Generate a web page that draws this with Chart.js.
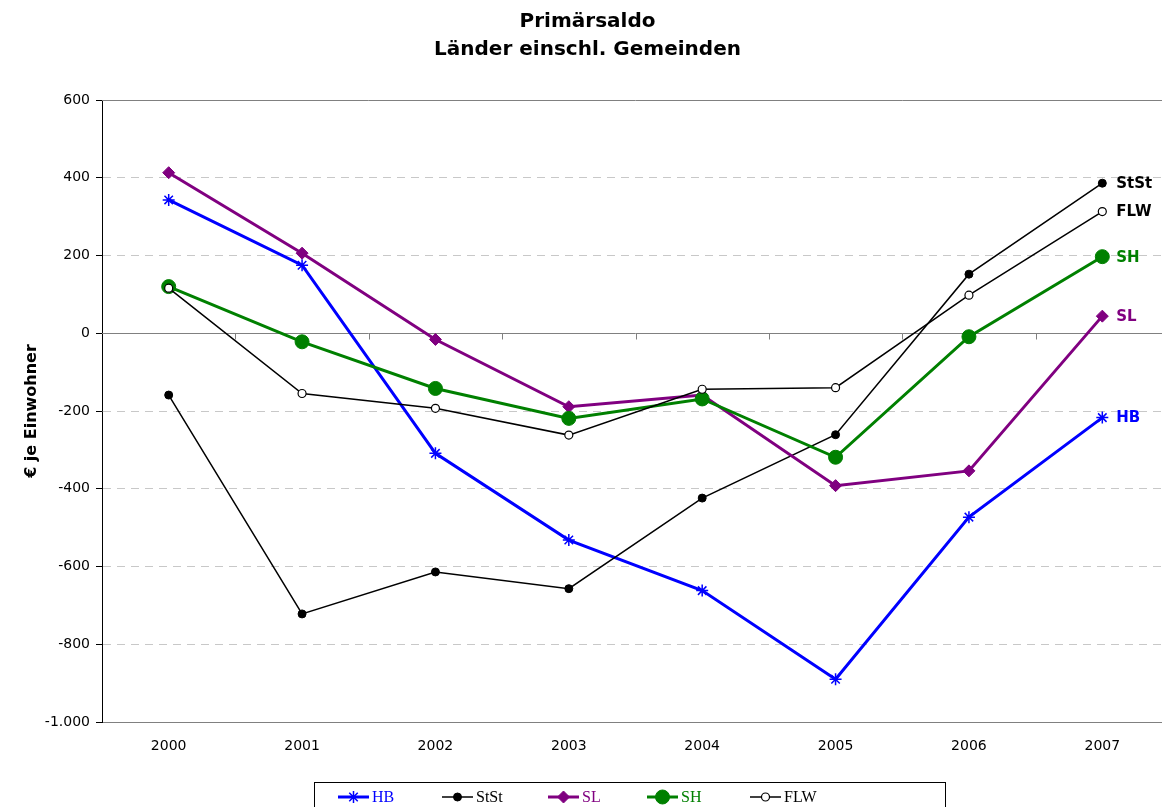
<!DOCTYPE html>
<html>
<head>
<meta charset="utf-8">
<script src="https://cdn.jsdelivr.net/npm/chart.js@4.4.1/dist/chart.umd.min.js"></script>
<style>
  html, body { margin: 0; padding: 0; background: #fff; overflow: hidden; }
  #saldoChart { display: block; }
</style>
</head>
<body>
<canvas id="saldoChart" width="1177" height="807"></canvas>
<script>
const years = ['2000', '2001', '2002', '2003', '2004', '2005', '2006', '2007'];
const hb = [343, 175, -309, -532, -662, -890, -473, -217];
const stst = [-159, -722, -614, -657, -424, -261, 152, 386];
const sl = [413, 206, -16, -189, -159, -392, -354, 44];
const sh = [120, -22, -142, -219, -169, -319, -9, 197];
const flw = [116, -155, -193, -262, -144, -140, 98, 313];
const yTickValues = [600, 400, 200, 0, -200, -400, -600, -800, -1000];
const yTickLabels = ['600', '400', '200', '0', '-200', '-400', '-600', '-800', '-1.000'];

const FONT = "'DejaVu Sans', sans-serif";

// zero line, top border and the little category ticks sitting on the zero line
const axisLines = {
  id: 'axisLines',
  beforeDatasetsDraw(chart) {
    const { ctx, chartArea: a, scales: { x, y } } = chart;
    ctx.save();
    ctx.strokeStyle = '#808080';
    ctx.lineWidth = 1;
    const y0 = Math.round(y.getPixelForValue(0)) + 0.5;
    const yTop = Math.round(a.top) + 0.5;
    ctx.beginPath();
    ctx.moveTo(a.left, y0); ctx.lineTo(a.right, y0);
    ctx.moveTo(a.left, yTop); ctx.lineTo(a.right, yTop);
    const band = (a.right - a.left) / years.length;
    for (let k = 1; k < years.length; k++) {
      const xx = Math.round(a.left + k * band) + 0.5;
      ctx.moveTo(xx, y0); ctx.lineTo(xx, y0 + 6);
    }
    ctx.stroke();
    ctx.restore();
  }
};

// series names at the end of each line
const endLabels = {
  id: 'endLabels',
  afterDatasetsDraw(chart) {
    const { ctx } = chart;
    ctx.save();
    ctx.font = 'bold 15px ' + FONT;
    ctx.textBaseline = 'middle';
    ctx.textAlign = 'left';
    chart.data.datasets.forEach((ds, i) => {
      const pts = chart.getDatasetMeta(i).data;
      const last = pts[pts.length - 1];
      ctx.fillStyle = ds.labelColor;
      ctx.fillText(ds.label, last.x + 14, last.y + 1);
    });
    ctx.restore();
  }
};

// boxed legend below the axis, line + marker + serif text
const boxLegend = {
  id: 'boxLegend',
  afterDraw(chart) {
    const { ctx } = chart;
    const starts = [338, 442, 548, 647, 750];
    const cy = 797;
    ctx.save();
    ctx.strokeStyle = '#000';
    ctx.lineWidth = 1;
    ctx.strokeRect(314.5, 782.5, 631, 40);
    ctx.font = "16px 'Liberation Serif', serif";
    ctx.textBaseline = 'middle';
    chart.data.datasets.forEach((ds, i) => {
      const x0 = starts[i];
      const mx = x0 + 15.5;
      ctx.strokeStyle = ds.borderColor;
      ctx.lineWidth = ds.borderWidth;
      ctx.beginPath();
      ctx.moveTo(x0, cy); ctx.lineTo(x0 + 31, cy);
      ctx.stroke();
      const r = ds.pointRadius;
      ctx.fillStyle = ds.pointBackgroundColor;
      ctx.strokeStyle = ds.pointBorderColor;
      ctx.lineWidth = ds.pointBorderWidth;
      ctx.beginPath();
      if (ds.pointStyle === 'star') {
        ctx.moveTo(mx - r, cy); ctx.lineTo(mx + r, cy);
        ctx.moveTo(mx, cy - r); ctx.lineTo(mx, cy + r);
        const d = r * 0.707;
        ctx.moveTo(mx - d, cy - d); ctx.lineTo(mx + d, cy + d);
        ctx.moveTo(mx - d, cy + d); ctx.lineTo(mx + d, cy - d);
        ctx.stroke();
      } else if (ds.pointStyle === 'rectRot') {
        ctx.moveTo(mx, cy - r); ctx.lineTo(mx + r, cy);
        ctx.lineTo(mx, cy + r); ctx.lineTo(mx - r, cy); ctx.closePath();
        ctx.fill(); ctx.stroke();
      } else {
        ctx.arc(mx, cy, r, 0, Math.PI * 2);
        ctx.fill(); ctx.stroke();
      }
      ctx.fillStyle = ds.labelColor;
      ctx.fillText(ds.label, x0 + 34, cy + 1);
    });
    ctx.restore();
  }
};

new Chart(document.getElementById('saldoChart'), {
  type: 'line',
  data: {
    labels: years,
    datasets: [
      {
        label: 'HB', data: hb, order: 5,
        borderColor: '#0000ff', borderWidth: 3, labelColor: '#0000ff',
        pointStyle: 'star', pointRadius: 6, pointBorderWidth: 1.5,
        pointBorderColor: '#0000ff', pointBackgroundColor: '#0000ff'
      },
      {
        label: 'StSt', data: stst, order: 4,
        borderColor: '#000000', borderWidth: 1.5, labelColor: '#000000',
        pointStyle: 'circle', pointRadius: 4, pointBorderWidth: 1,
        pointBorderColor: '#000000', pointBackgroundColor: '#000000'
      },
      {
        label: 'SL', data: sl, order: 3,
        borderColor: '#800080', borderWidth: 3, labelColor: '#800080',
        pointStyle: 'rectRot', pointRadius: 6, pointBorderWidth: 1,
        pointBorderColor: '#800080', pointBackgroundColor: '#800080'
      },
      {
        label: 'SH', data: sh, order: 2,
        borderColor: '#008000', borderWidth: 3, labelColor: '#008000',
        pointStyle: 'circle', pointRadius: 7, pointBorderWidth: 1,
        pointBorderColor: '#008000', pointBackgroundColor: '#008000'
      },
      {
        label: 'FLW', data: flw, order: 1,
        borderColor: '#000000', borderWidth: 1.5, labelColor: '#000000',
        pointStyle: 'circle', pointRadius: 4, pointBorderWidth: 1.2,
        pointBorderColor: '#000000', pointBackgroundColor: '#ffffff'
      }
    ]
  },
  options: {
    responsive: false,
    animation: false,
    layout: { padding: { top: 0, right: 2, bottom: 0, left: 0 } },
    plugins: {
      legend: { display: false },
      tooltip: { enabled: false },
      title: {
        display: true,
        text: ['Primärsaldo', 'Länder einschl. Gemeinden'],
        color: '#000',
        font: { family: FONT, size: 20, weight: 'bold', lineHeight: 1.4 },
        padding: { top: 8, bottom: 36 }
      }
    },
    scales: {
      x: {
        offset: true,
        grid: { display: false },
        border: { display: true, color: '#808080', width: 1 },
        ticks: { color: '#000', font: { family: FONT, size: 14 }, padding: 8, maxRotation: 0 },
        afterFit(scale) { scale.height = 85; }
      },
      y: {
        min: -1000,
        max: 600,
        afterBuildTicks(scale) { scale.ticks = yTickValues.map(v => ({ value: v })); },
        grid: {
          color: ctx => (ctx.tick && (ctx.tick.value === 0 || ctx.tick.value === 600 || ctx.tick.value === -1000)) ? 'rgba(0,0,0,0)' : '#c8c8c8',
          tickColor: '#000',
          tickLength: 6,
          lineWidth: 1
        },
        border: { display: true, color: '#000', width: 1, dash: [8, 6] },
        ticks: {
          color: '#000',
          font: { family: FONT, size: 14 },
          padding: 6,
          callback: (v) => yTickLabels[yTickValues.indexOf(v)]
        },
        title: {
          display: true,
          text: '€ je Einwohner',
          color: '#000',
          font: { family: FONT, size: 16, weight: 'bold' },
          padding: { top: 22, bottom: 0 }
        },
        afterFit(scale) { scale.width = 102; }
      }
    }
  },
  plugins: [axisLines, endLabels, boxLegend]
});
</script>
</body>
</html>
